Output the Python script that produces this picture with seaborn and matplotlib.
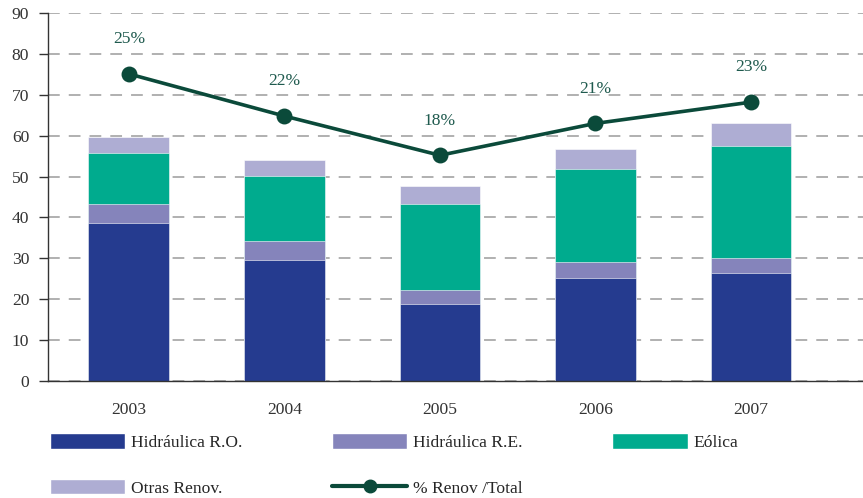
import matplotlib
matplotlib.use("Agg")
from matplotlib import pyplot as plt
from matplotlib.lines import Line2D
from matplotlib.patches import Patch
import seaborn as sns
import numpy as np

# data
years = ["2003", "2004", "2005", "2006", "2007"]
hidraulica_ro = [38.7, 29.6, 18.9, 25.1, 26.3]
hidraulica_re = [4.6, 4.6, 3.3, 4.0, 3.8]
eolica = [12.5, 15.9, 21.1, 22.7, 27.4]
otras = [3.9, 3.9, 4.5, 5.0, 5.6]
renov_line = [75.1, 64.8, 55.2, 63.0, 68.2]
renov_labels = ["25%", "22%", "18%", "21%", "23%"]

c_ro = "#253B8F"
c_re = "#8584BB"
c_eol = "#00AB8E"
c_otr = "#AEADD3"
c_line = "#0B4A3A"
c_txt = "#1F5A4E"

sns.set_theme(style="white")
plt.rcParams["font.family"] = ["Liberation Serif", "DejaVu Serif"]
fs = 12.6

fig = plt.figure(figsize=(8.63, 4.98), dpi=100)
ax = fig.add_axes([48 / 863, 1 - 381 / 498, 1 - 48 / 863, 368 / 498])

# stacked bars by overdrawing cumulative totals
layers = [hidraulica_ro, hidraulica_re, eolica, otras]
colors = [c_ro, c_re, c_eol, c_otr]
cum = np.cumsum(np.array(layers), axis=0)
for vals, col in zip(cum[::-1], colors[::-1]):
    sns.barplot(x=years, y=vals, color=col, width=0.52, saturation=1,
                edgecolor="white", linewidth=0.4, ax=ax, zorder=2)

sns.pointplot(x=years, y=renov_line, color=c_line, markers="o", markersize=9.5,
              linewidth=2.6, ax=ax, zorder=4)
for i, (v, lab) in enumerate(zip(renov_line, renov_labels)):
    ax.annotate(lab, (i, v), xytext=(0, 25), textcoords="offset points",
                ha="center", va="center", fontsize=fs, color=c_txt, zorder=5)

ax.set_ylim(0, 90)
ax.set_xlim(-0.52, 4.72)
ax.set_yticks(range(0, 91, 10))
ax.yaxis.grid(True, linestyle=(0, (6.5, 5)), color="#AAAAAA", linewidth=1.3)
ax.xaxis.grid(False)
ax.set_axisbelow(True)

ax.set_xticks(np.arange(-0.5, 5, 1), minor=True)
ax.tick_params(axis="x", which="major", length=0, pad=15, labelsize=fs, colors="#333333")
ax.tick_params(axis="x", which="minor", length=6.5, width=1, color="#333333", direction="out")
ax.tick_params(axis="y", length=6.5, width=1, pad=7, labelsize=fs, colors="#333333", direction="out", left=True)

for s in ["top", "right"]:
    ax.spines[s].set_visible(False)
for s in ["left", "bottom"]:
    ax.spines[s].set_color("#333333")
    ax.spines[s].set_linewidth(1)
ax.set_xlabel("")
ax.set_ylabel("")

handles = [
    Patch(facecolor=c_ro, label="Hidráulica R.O."),
    Patch(facecolor=c_otr, label="Otras Renov."),
    Patch(facecolor=c_re, label="Hidráulica R.E."),
    Line2D([0], [0], color=c_line, linewidth=3, marker="o", markersize=9, label="% Renov /Total"),
    Patch(facecolor=c_eol, label="Eólica"),
]
fig.legend(handles=handles, ncol=3, loc="upper left", bbox_to_anchor=(50 / 863, 1 - 433 / 498),
           frameon=False, fontsize=fs, handlelength=4.3, handleheight=1.0,
           handletextpad=0.35, columnspacing=5.1, labelspacing=1.6, borderaxespad=0,
           borderpad=0)

fig.savefig("out.png", dpi=100)
